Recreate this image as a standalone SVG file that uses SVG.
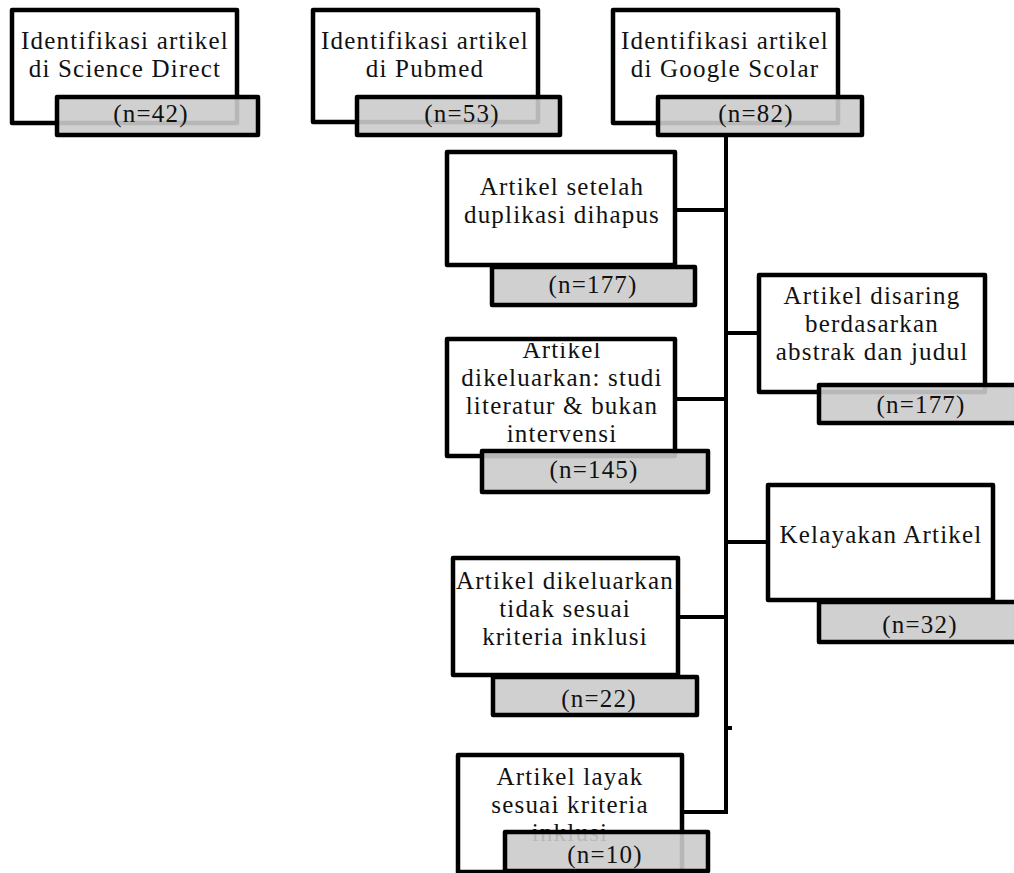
<svg xmlns="http://www.w3.org/2000/svg" width="1014" height="873" viewBox="0 0 1014 873">
<style>
.box{fill:#fff;stroke:#000;stroke-width:4.5;stroke-linejoin:round}
.num{fill:rgb(203,203,203);fill-opacity:0.9;stroke:#000;stroke-width:4.5;stroke-linejoin:round}
.t{font-family:"Liberation Serif","Times New Roman",serif;font-size:25px;letter-spacing:1.2px;fill:#111;text-anchor:middle}
.c{fill:none;stroke:#000;stroke-width:4}
</style>
<defs>
<clipPath id="clipStudi"><rect x="447" y="343" width="228" height="113"/></clipPath>
</defs>
<rect width="1014" height="873" fill="#fff"/>
<g id="connectors">
<line class="c" x1="726" y1="135" x2="726" y2="814"/>
<line class="c" x1="726" y1="728" x2="732" y2="728"/>
<line class="c" x1="675" y1="210" x2="726" y2="210"/>
<line class="c" x1="726" y1="333" x2="759" y2="333"/>
<line class="c" x1="675" y1="399" x2="726" y2="399"/>
<line class="c" x1="726" y1="542" x2="768" y2="542"/>
<line class="c" x1="678" y1="617" x2="726" y2="617"/>
<line class="c" x1="682" y1="812" x2="728" y2="812"/>
</g>
<g id="node-sciencedirect">
<rect class="box" x="12" y="10" width="225" height="113"/>
<text class="t" x="125" y="49">Identifikasi artikel</text>
<text class="t" x="125" y="77">di Science Direct</text>
<rect class="num" x="57" y="97" width="201" height="38"/>
<text class="t" x="151" y="122">(n=42)</text>
</g>
<g id="node-pubmed">
<rect class="box" x="313" y="10" width="225" height="112"/>
<text class="t" x="425" y="49">Identifikasi artikel</text>
<text class="t" x="425" y="77">di Pubmed</text>
<rect class="num" x="357" y="97" width="203" height="38"/>
<text class="t" x="462" y="122">(n=53)</text>
</g>
<g id="node-google">
<rect class="box" x="613" y="10" width="225" height="113"/>
<text class="t" x="725" y="49">Identifikasi artikel</text>
<text class="t" x="725" y="77">di Google Scolar</text>
<rect class="num" x="658" y="97" width="204" height="38"/>
<text class="t" x="756" y="122">(n=82)</text>
</g>
<g id="node-duplikasi">
<rect class="box" x="447" y="152" width="228" height="113"/>
<text class="t" x="562" y="195">Artikel setelah</text>
<text class="t" x="562" y="223">duplikasi dihapus</text>
<rect class="num" x="492" y="267" width="203" height="38"/>
<text class="t" x="593" y="293">(n=177)</text>
</g>
<g id="node-disaring">
<rect class="box" x="759" y="275" width="226" height="117"/>
<text class="t" x="872" y="304">Artikel disaring</text>
<text class="t" x="872" y="332">berdasarkan</text>
<text class="t" x="872" y="360">abstrak dan judul</text>
<rect class="num" x="819" y="385" width="200" height="38"/>
<text class="t" x="921" y="413">(n=177)</text>
</g>
<g id="node-studi">
<rect class="box" x="447" y="339" width="228" height="117"/>
<g clip-path="url(#clipStudi)">
<text class="t" x="562" y="358">Artikel</text>
<text class="t" x="562" y="386">dikeluarkan: studi</text>
<text class="t" x="562" y="414">literatur &amp; bukan</text>
<text class="t" x="562" y="442">intervensi</text>
</g>
<rect class="num" x="482" y="451" width="226" height="41"/>
<text class="t" x="594" y="478">(n=145)</text>
</g>
<g id="node-kelayakan">
<rect class="box" x="768" y="485" width="225" height="115"/>
<text class="t" x="881" y="543">Kelayakan Artikel</text>
<rect class="num" x="819" y="602" width="200" height="40"/>
<text class="t" x="920" y="633">(n=32)</text>
</g>
<g id="node-tidaksesuai">
<rect class="box" x="453" y="558" width="225" height="117"/>
<text class="t" x="565" y="589">Artikel dikeluarkan</text>
<text class="t" x="565" y="617">tidak sesuai</text>
<text class="t" x="565" y="645">kriteria inklusi</text>
<rect class="num" x="493" y="677" width="204" height="38"/>
<text class="t" x="599" y="707">(n=22)</text>
</g>
<g id="node-layak">
<rect class="box" x="458" y="755" width="224" height="117"/>
<text class="t" x="570" y="785">Artikel layak</text>
<text class="t" x="570" y="813">sesuai kriteria</text>
<text class="t" x="570" y="841">inklusi</text>
<rect class="num" x="505" y="832" width="203" height="39"/>
<text class="t" x="605" y="863">(n=10)</text>
</g>
</svg>
